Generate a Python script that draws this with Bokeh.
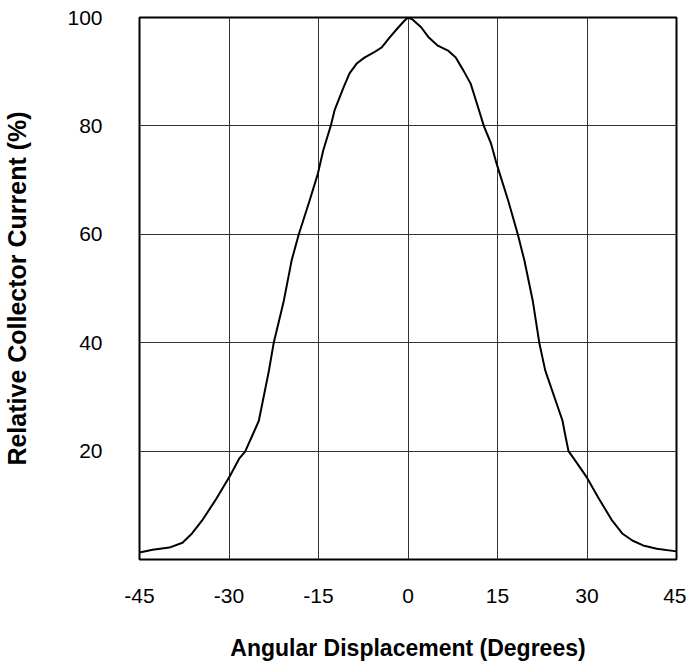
from bokeh.plotting import figure
from bokeh.models import FixedTicker, Range1d
from bokeh.embed import file_html
from bokeh.resources import INLINE

# Data
angle_deg = [-45, -42.8, -40, -37.8, -36.2, -34.5, -32.3, -29.8, -28.3, -27.3,
             -26.2, -25, -23.3, -22.5, -20.8, -19.5, -18.3, -16.5, -15.1, -14.2,
             -12.95, -12.3, -10.8, -9.8, -8.6, -7.3, -5.8, -4.4, -3.1, -1.6,
             -0.6, 0, 0.8, 2.2, 3.5, 5.0, 6.7, 8.0, 9.3, 10.5,
             11.9, 12.7, 13.9, 14.7, 15.2, 16.8, 18.4, 19.5, 20.9, 22.0,
             23.0, 25.9, 26.2, 26.9, 28.0, 30, 31.9, 34.2, 35.9, 37.6,
             39.4, 41.7, 45]
rel_current = [1.3, 1.8, 2.2, 3.1, 4.8, 7.2, 10.9, 15.5, 18.6, 19.9,
               22.6, 25.6, 34.9, 40, 47.8, 55.2, 60, 66.2, 71.2, 75.5,
               80, 82.9, 87.1, 89.7, 91.5, 92.6, 93.5, 94.5, 96.3, 98.2,
               99.4, 100, 99.6, 98.2, 96.3, 94.8, 93.9, 92.6, 90.2, 87.8,
               82.9, 80, 76.8, 73.6, 71.8, 66.2, 60, 55.2, 47.8, 40,
               34.9, 25.6, 23.8, 20, 18.3, 15.1, 11.4, 7.2, 4.8, 3.5,
               2.6, 2.0, 1.5]
x_ticks = [-45, -30, -15, 0, 15, 30, 45]
x_tick_labels = ["-45", "-30", "-15", "0", "15", "30", "45"]
y_ticks = [20, 40, 60, 80, 100]
y_tick_labels = ["20", "40", "60", "80", "100"]

FONT = "Liberation Sans"

p = figure(width=686, height=664, output_backend="svg", toolbar_location=None,
           x_range=Range1d(-45, 45), y_range=Range1d(0, 100),
           min_border_left=137, min_border_right=10, min_border_top=17,
           min_border_bottom=105)

p.line(angle_deg, rel_current, line_color="black", line_width=2,
       line_join="round")

p.xaxis.ticker = FixedTicker(ticks=x_ticks)
p.yaxis.ticker = FixedTicker(ticks=y_ticks)
p.xaxis.major_label_overrides = dict(zip(x_ticks, x_tick_labels))
p.yaxis.major_label_overrides = dict(zip(y_ticks, y_tick_labels))

for ax in (p.xaxis, p.yaxis):
    ax.axis_line_color = None
    ax.major_tick_line_color = None
    ax.minor_tick_line_color = None
    ax.major_tick_out = 0
    ax.major_tick_in = 0
    ax.major_label_text_font = FONT
    ax.major_label_text_font_size = "21px"
    ax.major_label_text_color = "black"
    ax.axis_label_text_font = FONT
    ax.axis_label_text_font_style = "bold"
    ax.axis_label_text_color = "black"

p.xaxis.axis_label_text_font_size = "23px"
p.yaxis.axis_label_text_font_size = "25px"
p.xaxis.axis_label = "Angular Displacement (Degrees)"
p.yaxis.axis_label = "Relative Collector Current (%)"
p.xaxis.major_label_standoff = 29
p.yaxis.major_label_standoff = 37
p.xaxis.axis_label_standoff = 29
p.yaxis.axis_label_standoff = 33

p.xgrid.grid_line_color = "#333333"
p.ygrid.grid_line_color = "#333333"
p.xgrid.grid_line_width = 1
p.ygrid.grid_line_width = 1

p.outline_line_color = "black"
p.outline_line_width = 2
p.background_fill_color = "white"
p.border_fill_color = "white"

open("out.html", "w").write(file_html(p, INLINE))
